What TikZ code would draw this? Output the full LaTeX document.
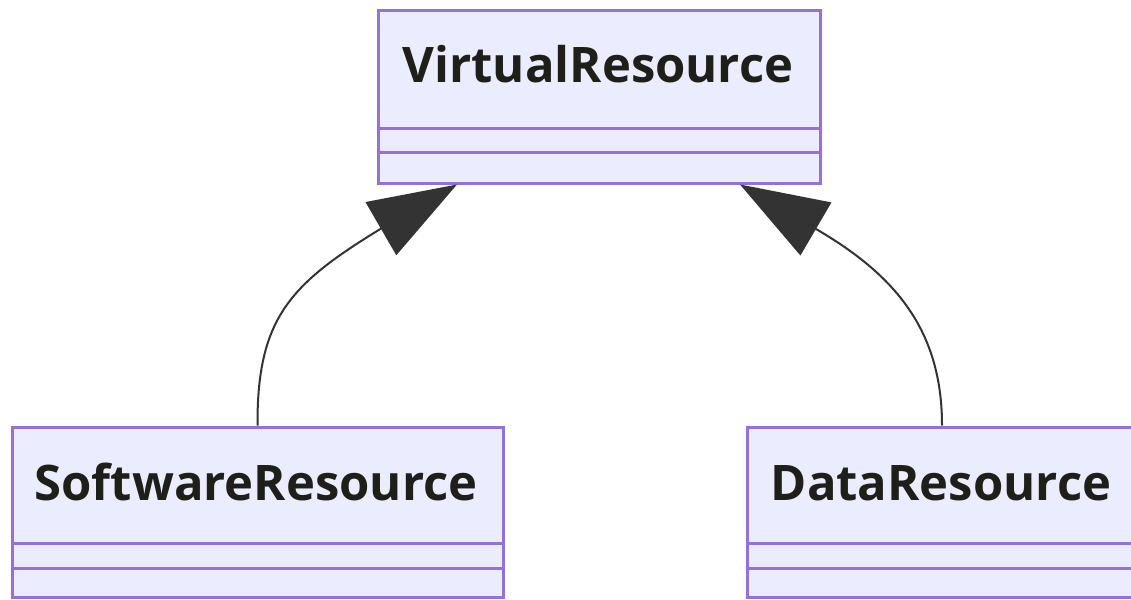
\documentclass[tikz,border=0pt]{standalone}
\usepackage{fontspec}
\setmainfont{Open Sans}
\usetikzlibrary{arrows.meta,calc}
\definecolor{clsfill}{HTML}{ECECFF}
\definecolor{clsborder}{HTML}{9370DB}
\definecolor{edgecol}{HTML}{333333}
\definecolor{txtcol}{HTML}{1F1F1A}
\tikzset{
  cls/.style={draw=clsborder, fill=clsfill, line width=3pt, rectangle, inner sep=0pt},
  clsdiv/.style={draw=clsborder, line width=3pt},
  clsname/.style={text=txtcol, font=\fontsize{49}{49}\selectfont\bfseries, inner sep=0pt, anchor=base},
  inherit/.style={draw=edgecol, line width=2pt, -{Triangle[length=88pt,width=61pt,fill=edgecol]}}
}
\begin{document}
\begin{tikzpicture}[x=1pt, y=-1pt]
\useasboundingbox (0,0) rectangle (1131,599);

% VirtualResource
\node[cls, minimum width=442pt, minimum height=172pt] (v) at (599,97) {};
\node[clsname] (vt) at (598,83) {VirtualResource};
\draw[clsdiv] (v.west |- 0,128) -- (v.east |- 0,128);
\draw[clsdiv] (v.west |- 0,152) -- (v.east |- 0,152);

% SoftwareResource
\node[cls, minimum width=491pt, minimum height=170pt] (s) at (257.5,512) {};
\node[clsname] (st) at (256,500) {SoftwareResource};
\draw[clsdiv] (s.west |- 0,543) -- (s.east |- 0,543);
\draw[clsdiv] (s.west |- 0,568) -- (s.east |- 0,568);

% DataResource
\node[cls, minimum width=390pt, minimum height=170pt] (d) at (942,512) {};
\node[clsname] (dt) at (941,500) {DataResource};
\draw[clsdiv] (d.west |- 0,543) -- (d.east |- 0,543);
\draw[clsdiv] (d.west |- 0,568) -- (d.east |- 0,568);

% inheritance arrows
\coordinate (sb) at (382,228);
\coordinate (db) at (816,229);
\draw[inherit] (s.north) .. controls (257,318) and (290,284) .. (sb) -- ($(v.south)+(-142,0)$);
\draw[inherit] (d.north) .. controls (942,330) and (895,275) .. (db) -- ($(v.south)+(141,0)$);
\end{tikzpicture}
\end{document}
